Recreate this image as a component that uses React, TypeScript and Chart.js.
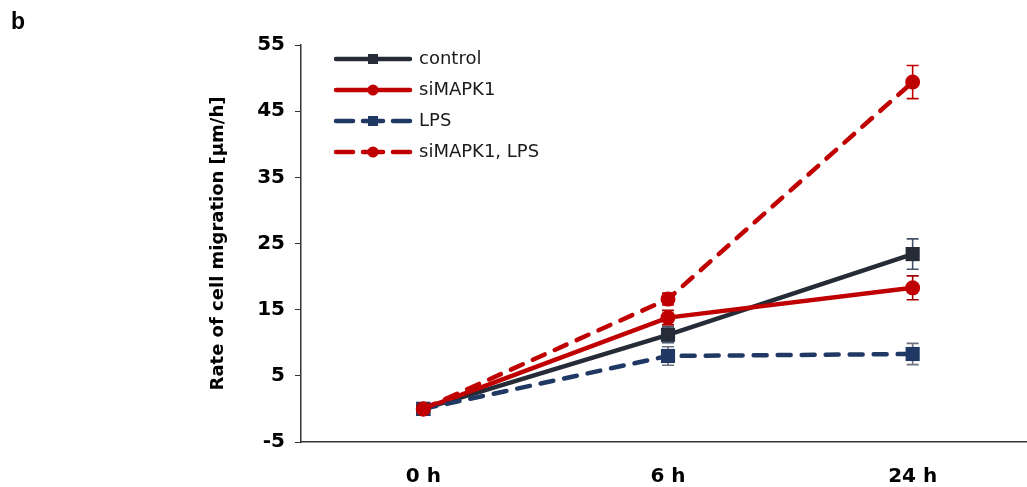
import React, { useEffect, useRef } from 'react';
import { Chart, registerables } from 'chart.js';
Chart.register(...registerables);

const timeLabels = ['0 h', '6 h', '24 h'];
const seriesNames = ['control', 'siMAPK1', 'LPS', 'siMAPK1, LPS'];
const controlValues = [0, 11.2, 23.4];
const controlErrors = [0, 1.2, 2.3];
const siMAPK1Values = [0, 13.8, 18.3];
const siMAPK1Errors = [0, 1.1, 1.8];
const lpsValues = [0, 8.0, 8.3];
const lpsErrors = [0, 1.4, 1.6];
const siMAPK1LpsValues = [0, 16.6, 49.4];
const siMAPK1LpsErrors = [0, 0.9, 2.5];
const yMin = -5;
const yMax = 55;
const yStep = 10;
const yTitle = 'Rate of cell migration [µm/h]';

const DARK = '#252c38';
const RED = '#c00000';
const NAVY = '#203864';

const seriesStyles = [
  { color: DARK, errColor: '#44546a', dash: [] as number[], point: 'rect', radius: 10 },
  { color: RED, errColor: '#a00000', dash: [] as number[], point: 'circle', radius: 7.5 },
  { color: NAVY, errColor: '#6b7280', dash: [13, 11], point: 'rect', radius: 10 },
  { color: RED, errColor: '#c00000', dash: [13, 11], point: 'circle', radius: 7.5 },
];
const seriesValues = [controlValues, siMAPK1Values, lpsValues, siMAPK1LpsValues];
const seriesErrors = [controlErrors, siMAPK1Errors, lpsErrors, siMAPK1LpsErrors];

const errorBarPlugin = {
  id: 'errorBars',
  beforeDatasetsDraw(chart: any) {
    const ctx = chart.ctx;
    const yScale = chart.scales.y;
    chart.data.datasets.forEach((ds: any, di: number) => {
      const meta = chart.getDatasetMeta(di);
      const errs = seriesErrors[di];
      ctx.save();
      ctx.strokeStyle = seriesStyles[di].errColor;
      ctx.lineWidth = 1.6;
      meta.data.forEach((pt: any, i: number) => {
        const e = errs[i];
        if (!e) return;
        const v = ds.data[i];
        const yt = yScale.getPixelForValue(v + e);
        const yb = yScale.getPixelForValue(v - e);
        const x = pt.x;
        ctx.beginPath();
        ctx.moveTo(x, yt);
        ctx.lineTo(x, yb);
        ctx.moveTo(x - 6, yt);
        ctx.lineTo(x + 6, yt);
        ctx.moveTo(x - 6, yb);
        ctx.lineTo(x + 6, yb);
        ctx.stroke();
      });
      ctx.restore();
    });
  },
};

const legendPlugin = {
  id: 'customLegend',
  afterDraw(chart: any) {
    const ctx = chart.ctx;
    const left = chart.chartArea.left + 35;
    const top = chart.chartArea.top + 14;
    const rowH = 31;
    seriesNames.forEach((name, i) => {
      const st = seriesStyles[i];
      const y = top + i * rowH;
      ctx.save();
      ctx.strokeStyle = st.color;
      ctx.fillStyle = st.color;
      ctx.lineWidth = 4.5;
      ctx.lineCap = 'round';
      if (st.dash.length) {
        const segs = [[left, left + 17], [left + 27, left + 47], [left + 57, left + 74]];
        segs.forEach(([a, b]) => {
          ctx.beginPath();
          ctx.moveTo(a, y);
          ctx.lineTo(b, y);
          ctx.stroke();
        });
      } else {
        ctx.beginPath();
        ctx.moveTo(left, y);
        ctx.lineTo(left + 74, y);
        ctx.stroke();
      }
      const cx = left + 37;
      if (st.point === 'rect') {
        ctx.fillRect(cx - 5, y - 5, 10, 10);
      } else {
        ctx.beginPath();
        ctx.arc(cx, y, 5.5, 0, Math.PI * 2);
        ctx.fill();
      }
      ctx.fillStyle = '#1a1a1a';
      ctx.font = '18px "DejaVu Sans"';
      ctx.textBaseline = 'middle';
      ctx.textAlign = 'left';
      ctx.fillText(name, left + 83, y);
      ctx.restore();
    });
  },
};

export default function App() {
  const ref = useRef<HTMLCanvasElement>(null);
  useEffect(() => {
    if (!ref.current) return;
    const chart = new Chart(ref.current, {
      type: 'line',
      data: {
        labels: timeLabels,
        datasets: seriesNames.map((name, i) => ({
          label: name,
          data: seriesValues[i],
          borderColor: seriesStyles[i].color,
          backgroundColor: seriesStyles[i].color,
          borderWidth: 4.5,
          borderDash: seriesStyles[i].dash,
          borderCapStyle: 'round' as const,
          pointStyle: seriesStyles[i].point as any,
          pointRadius: seriesStyles[i].radius,
          pointBorderWidth: 0,
          pointBackgroundColor: seriesStyles[i].color,
          tension: 0,
          fill: false,
          order: 4 - i,
        })),
      },
      options: {
        responsive: false,
        animation: false,
        layout: { padding: { left: 200, top: 45, right: 6, bottom: 0 } },
        plugins: { legend: { display: false }, tooltip: { enabled: false } },
        scales: {
          x: {
            type: 'category',
            offset: true,
            grid: { display: true, drawOnChartArea: false, drawTicks: false },
            border: { display: true, color: '#333', width: 1.5 },
            ticks: {
              color: '#000',
              padding: 23,
              font: { family: 'DejaVu Sans', weight: 'bold', size: 20 },
            },
            afterFit: (s: any) => { s.height = 45; },
          },
          y: {
            min: yMin,
            max: yMax,
            grid: { display: true, drawOnChartArea: false, drawTicks: true, tickLength: 6, color: '#333' },
            border: { display: true, color: '#333', width: 1.5 },
            ticks: {
              stepSize: yStep,
              color: '#000',
              padding: 10,
              font: { family: 'DejaVu Sans', weight: 'bold', size: 20 },
            },
            title: {
              display: true,
              text: yTitle,
              color: '#000',
              padding: { top: 8, bottom: 0 },
              font: { family: 'DejaVu Sans', weight: 'bold', size: 18 },
            },
            afterFit: (s: any) => { s.width = 101; },
          },
        },
      },
      plugins: [errorBarPlugin, legendPlugin],
    });
    return () => chart.destroy();
  }, []);
  return (
    <div style={{ position: 'absolute', left: 0, top: 0, width: 1027, height: 487, overflow: 'hidden', background: '#fff' }}>
      <div style={{ position: 'absolute', left: 11, top: 8, font: 'bold 23px "Liberation Sans"', color: '#000', lineHeight: 1.15 }}>b</div>
      <canvas ref={ref} width={1045} height={487} style={{ display: 'block', width: 1045, height: 487 }} />
    </div>
  );
}
